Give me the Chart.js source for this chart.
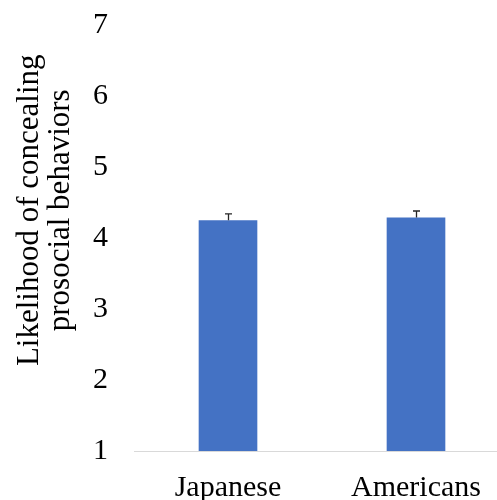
<!DOCTYPE html>
<html>
<head>
<meta charset="utf-8">
<script src="https://cdn.jsdelivr.net/npm/chart.js@4/dist/chart.umd.min.js"></script>
<style>
  html, body { margin: 0; padding: 0; background: #fff; overflow: hidden; }
  #wrap { position: relative; width: 510px; height: 500px; }
</style>
</head>
<body>
<div id="wrap"><canvas id="chart" width="510" height="500"></canvas></div>
<script>
// data
const groups = ['Japanese', 'Americans'];
const means = [4.25, 4.29];
const errUp = [0.09, 0.09];
const yTicks = [1, 2, 3, 4, 5, 6, 7];
const yTitle = ['Likelihood of concealing', 'prosocial behaviors'];

const serif = "'Liberation Serif', 'Times New Roman', serif";

// upper-only error bars with a small cap
const errorBars = {
  id: 'errorBars',
  afterDatasetsDraw(chart) {
    const { ctx, scales: { y } } = chart;
    const meta = chart.getDatasetMeta(0);
    ctx.save();
    ctx.strokeStyle = '#262626';
    ctx.lineWidth = 1.3;
    meta.data.forEach((bar, i) => {
      const top = y.getPixelForValue(means[i] + errUp[i]);
      const x = Math.round(bar.x) + 0.5;
      ctx.beginPath();
      ctx.moveTo(x, bar.y);
      ctx.lineTo(x, top);
      ctx.moveTo(x - 3.5, top);
      ctx.lineTo(x + 3.5, top);
      ctx.stroke();
    });
    ctx.restore();
  }
};

// two-line rotated axis title, sits a bit above the middle of the plot like the original
const sideTitle = {
  id: 'sideTitle',
  afterDraw(chart) {
    const { ctx, chartArea } = chart;
    const cy = chartArea.top + (chartArea.bottom - chartArea.top) * 0.435;
    ctx.save();
    ctx.fillStyle = '#000';
    ctx.font = `31px ${serif}`;
    ctx.textAlign = 'center';
    ctx.textBaseline = 'middle';
    [30, 61].forEach((x, i) => {
      ctx.save();
      ctx.translate(x, cy);
      ctx.rotate(-Math.PI / 2);
      ctx.fillText(yTitle[i], 0, 0);
      ctx.restore();
    });
    ctx.restore();
  }
};

new Chart(document.getElementById('chart'), {
  type: 'bar',
  data: {
    labels: groups,
    datasets: [{
      data: means,
      backgroundColor: '#4472C4',
      borderWidth: 0,
      categoryPercentage: 1,
      barPercentage: 0.312
    }]
  },
  options: {
    responsive: false,
    animation: false,
    layout: { padding: { top: 25, left: 0, right: 0, bottom: 0 } },
    plugins: { legend: { display: false }, tooltip: { enabled: false } },
    scales: {
      x: {
        grid: { display: false, drawTicks: false },
        border: { display: true, color: '#d9d9d9', width: 1 },
        ticks: { color: '#000', padding: 19, font: { family: serif, size: 30 } },
        afterFit(scale) { scale.height = 49; }
      },
      y: {
        min: 1,
        max: 7,
        afterBuildTicks(scale) { scale.ticks = yTicks.map(v => ({ value: v })); },
        grid: { display: false, drawTicks: false },
        border: { display: false },
        ticks: { color: '#000', padding: 26, font: { family: serif, size: 30 } },
        afterFit(scale) {
          scale.width = 134;
          scale.paddingTop = 0;
          scale.paddingBottom = 0;
        }
      }
    }
  },
  plugins: [errorBars, sideTitle]
});
</script>
</body>
</html>
